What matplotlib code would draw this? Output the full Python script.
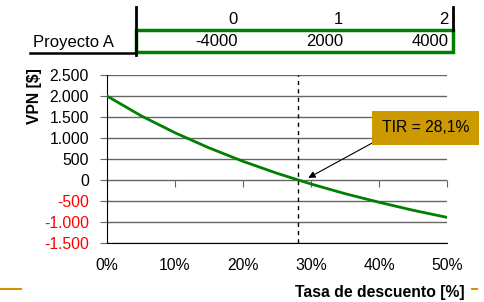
import matplotlib
matplotlib.use("Agg")
import matplotlib.pyplot as plt
from matplotlib.patches import Rectangle
from matplotlib.lines import Line2D

plt.rcParams["font.family"] = ["Liberation Sans", "DejaVu Sans"]

# cash flow table
periods = ["0", "1", "2"]
cash_flows = ["-4000", "2000", "4000"]
project = "Proyecto A"

# NPV curve
rates = [0, 5, 10, 15, 20, 25, 30, 35, 40, 45, 50]
npv = [2000, 1530, 1125, 765, 445, 160, -95, -325, -530, -720, -890]
irr = 28.1
irr_label = "TIR = 28,1%"

y_ticks = [-1500, -1000, -500, 0, 500, 1000, 1500, 2000, 2500]
x_ticks = [0, 10, 20, 30, 40, 50]

GREEN = "#008000"
GOLD = "#CC9900"
W, H = 485, 302

fig = plt.figure(figsize=(W / 100, H / 100), dpi=100)
ax = fig.add_axes([107 / W, 1 - 243 / H, 340 / W, 168 / H])

ax.plot(rates, npv, color=GREEN, linewidth=2, zorder=3)
ax.axvline(irr, color="black", linewidth=1, dashes=(3, 3), zorder=2)

ax.set_xlim(0, 50)
ax.set_ylim(-1500, 2500)
ax.set_yticks(y_ticks)
ax.set_yticklabels([f"{v:,}".replace(",", ".") for v in y_ticks])
for lab, v in zip(ax.get_yticklabels(), y_ticks):
    lab.set_color("red" if v < 0 else "black")
ax.grid(axis="y", color="#666666", linewidth=1)
ax.set_axisbelow(True)
ax.tick_params(axis="y", direction="out", length=5, color="#666666",
               labelsize=11.3, pad=8)

ax.set_xticks(x_ticks)
ax.set_xticklabels([f"{v}%" for v in x_ticks])
ax.tick_params(axis="x", length=0, labelsize=11.3, pad=11)

# ticks sit on the zero line
sec = ax.secondary_xaxis((0 - y_ticks[0]) / (y_ticks[-1] - y_ticks[0]))
sec.set_xticks(x_ticks)
sec.tick_params(direction="out", length=5, color="#666666", labelbottom=False)
sec.spines["bottom"].set_visible(False)

for s in ("top", "right"):
    ax.spines[s].set_visible(False)
ax.spines["left"].set_color("black")
ax.spines["bottom"].set_color("black")

ax.annotate(irr_label, xy=(29.6, 50), xytext=(40.4, 1240),
            fontsize=11.3, ha="left", va="center",
            bbox=dict(boxstyle="square,pad=0.6", fc=GOLD, ec="none"),
            arrowprops=dict(arrowstyle="-|>", color="black", lw=0.8,
                            shrinkA=0, shrinkB=0, mutation_scale=10,
                            relpos=(0.05, 0.0)),
            zorder=5)

fig.text(35 / W, 1 - 96 / H, "VPN [$]", rotation=90, fontsize=11.3,
         fontweight="bold", ha="center", va="center")
fig.text(465 / W, 1 - 292 / H, "Tasa de descuento [%]", fontsize=11.3,
         fontweight="bold", ha="right", va="center")

# cash flow table on top
right_edges = [238, 343, 449]
for x, p, c in zip(right_edges, periods, cash_flows):
    fig.text(x / W, 1 - 19 / H, p, fontsize=12, ha="right", va="center")
    fig.text(x / W, 1 - 42 / H, c, fontsize=12, ha="right", va="center")
fig.text(33 / W, 1 - 42 / H, project, fontsize=12, ha="left", va="center")

fig.add_artist(Rectangle((136 / W, 1 - 52 / H), 317 / W, 22 / H,
                         transform=fig.transFigure, fill=False,
                         edgecolor=GREEN, linewidth=2.5))
fig.add_artist(Line2D([136 / W, 136 / W], [1 - 7 / H, 1 - 55 / H],
                      color="black", linewidth=2))
fig.add_artist(Line2D([453 / W, 453 / W], [1 - 7 / H, 1 - 30 / H],
                      color="black", linewidth=2))
fig.add_artist(Line2D([30 / W, 136 / W], [1 - 53 / H, 1 - 53 / H],
                      color="black", linewidth=1.8))

# decorative gold strokes
fig.add_artist(Line2D([0, 21 / W], [1 - 289 / H, 1 - 289 / H],
                      color=GOLD, linewidth=1.5))
fig.add_artist(Line2D([472 / W, 477 / W], [1 - 289 / H, 1 - 289 / H],
                      color=GOLD, linewidth=1.5))

fig.savefig("out.png", dpi=100)
